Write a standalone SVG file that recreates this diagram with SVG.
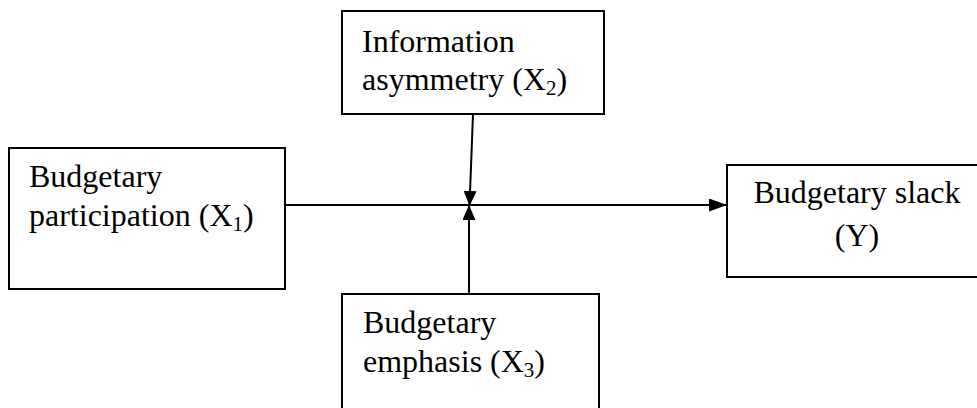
<svg xmlns="http://www.w3.org/2000/svg" width="977" height="408" viewBox="0 0 977 408">
<style>
.box{fill:#fff;stroke:#000;stroke-width:2}
.t{font-family:"Liberation Serif","Times New Roman",serif;font-size:32px;fill:#000}
.sub{font-size:21px}
.c{stroke:#000;stroke-width:2;fill:none}
</style>
<defs>
<marker id="ah" viewBox="0 0 10 10" refX="10" refY="5" markerWidth="18" markerHeight="13" markerUnits="userSpaceOnUse" orient="auto" preserveAspectRatio="none">
<path d="M0,0 L10,5 L0,10 z" fill="#000"/>
</marker>
<marker id="ah2" viewBox="0 0 10 10" refX="10" refY="5" markerWidth="15" markerHeight="13" markerUnits="userSpaceOnUse" orient="auto" preserveAspectRatio="none">
<path d="M0,0 L10,5 L0,10 z" fill="#000"/>
</marker>
</defs>
<g id="x1">
<rect class="box" x="9" y="148" width="276" height="141"/>
<text class="t" x="29" y="187">Budgetary</text>
<text class="t" x="29" y="226">participation (X<tspan class="sub" dy="5">1</tspan><tspan dy="-5">)</tspan></text>
</g>
<g id="x2">
<rect class="box" x="342" y="11" width="262" height="103"/>
<text class="t" x="362" y="52">Information</text>
<text class="t" x="362" y="90">asymmetry (X<tspan class="sub" dy="5">2</tspan><tspan dy="-5">)</tspan></text>
</g>
<g id="x3">
<rect class="box" x="342" y="294" width="257" height="120"/>
<text class="t" x="363" y="333">Budgetary</text>
<text class="t" x="363" y="372">emphasis (X<tspan class="sub" dy="5">3</tspan><tspan dy="-5">)</tspan></text>
</g>
<g id="y">
<rect class="box" x="727" y="165" width="262" height="112"/>
<text class="t" x="857" y="203" text-anchor="middle">Budgetary slack</text>
<text class="t" x="857" y="246" text-anchor="middle">(Y)</text>
</g>
<g id="connectors">
<line class="c" x1="285" y1="205" x2="727" y2="205" marker-end="url(#ah)"/>
<line class="c" x1="473" y1="114" x2="469.5" y2="206" marker-end="url(#ah2)"/>
<line class="c" x1="469" y1="294" x2="469" y2="205" marker-end="url(#ah2)"/>
</g>
</svg>
